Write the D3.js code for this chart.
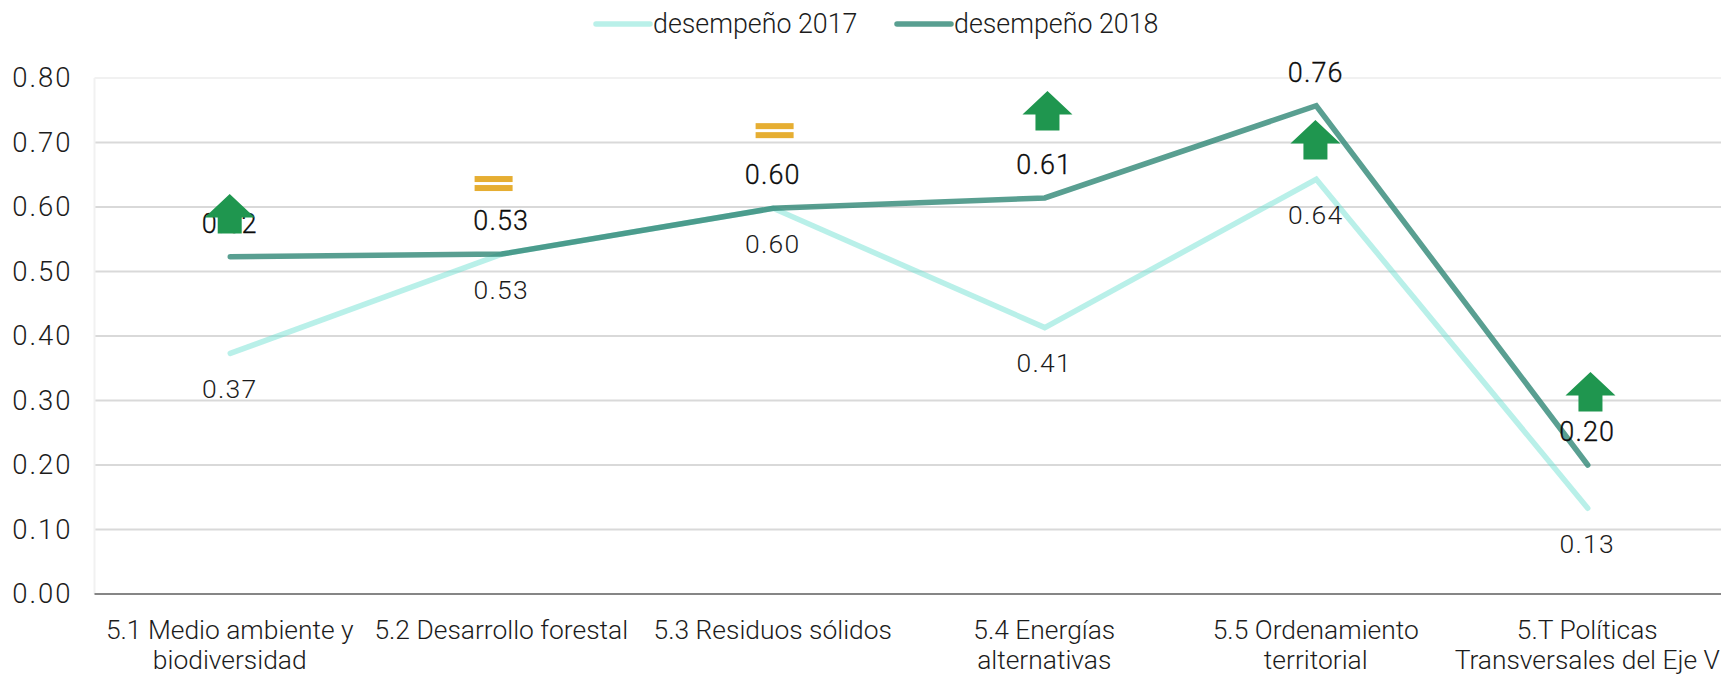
<!DOCTYPE html>
<html><head><meta charset="utf-8">
<script src="https://cdn.jsdelivr.net/npm/d3@7"></script>
<style>
html,body{margin:0;padding:0;background:#fff;overflow:hidden}
svg{display:block}
text{font-family:Roboto,"Noto Sans",sans-serif;font-weight:300;fill:#1c1c1c}
</style></head><body>
<svg id="c" width="1721" height="675"></svg>
<script>
const categories=["5.1 Medio ambiente y\nbiodiversidad","5.2 Desarrollo forestal","5.3 Residuos sólidos","5.4 Energías\nalternativas","5.5 Ordenamiento\nterritorial","5.T Políticas\nTransversales del Eje V"];
const values2017=[0.373,0.527,0.598,0.413,0.643,0.133];
const values2018=[0.523,0.527,0.598,0.614,0.757,0.20];
const labels2017=["0.37","0.53","0.60","0.41","0.64","0.13"];
const labels2018=["0.52","0.53","0.60","0.61","0.76","0.20"];
const yTicks=[0,0.1,0.2,0.3,0.4,0.5,0.6,0.7,0.8];
const seriesNames=["desempeño 2017","desempeño 2018"];
// trend markers: kind, position on the category axis (index), level of the top edge on the value axis
const trendKind=["up","equal","equal","up","up","up"];
const trendPos=[-0.002,0.97,2.005,3.01,3.997,5.01];
const trendTop=[0.62,0.648,0.73,0.78,0.735,0.344];

const colors={light:"#73E1D3",dark:"#2F8776",up:"#1F964F",equal:"#E6AE32"};
const svg=d3.select("#c");
const x0=94.5,step=271.5;
const x=d3.scalePoint().domain(categories).range([x0+step/2,x0+step*5.5]);
const xPos=d3.scaleLinear().domain([0,5]).range([x0+step/2,x0+step*5.5]);
const y=d3.scaleLinear().domain([0,0.8]).range([594,78]);
const right=1721;

// grid
svg.append("g").selectAll("line").data(yTicks.filter(d=>d>0)).join("line")
 .attr("x1",x0).attr("x2",right).attr("y1",d=>y(d)).attr("y2",d=>y(d))
 .attr("stroke",d=>d===0.8?"#f1f1f1":"#d9d9d9").attr("stroke-width",2);
svg.append("line").attr("x1",x0).attr("x2",x0).attr("y1",y(0.8)).attr("y2",y(0)).attr("stroke","#f1f1f1").attr("stroke-width",2);

// axes
const yAxis=svg.append("g").attr("transform",`translate(${x0},0)`)
 .call(d3.axisLeft(y).tickValues(yTicks).tickFormat(d3.format(".2f")).tickSize(0).tickPadding(22));
yAxis.select(".domain").remove();
yAxis.selectAll("text").attr("font-size",27.5).style("letter-spacing","2px");
yAxis.attr("font-family",null);

const xAxis=svg.append("g").attr("transform",`translate(0,${y(0)})`)
 .call(d3.axisBottom(x).tickSize(0).tickFormat(""));
xAxis.attr("font-family",null);
xAxis.select(".domain").attr("stroke","#868686").attr("stroke-width",2).attr("d",`M${x0},0H${right}`);
xAxis.selectAll(".tick text").each(function(d){
  const t=d3.select(this).attr("font-size",26.4).attr("y",null).attr("dy",null).text(null);
  d.split("\n").forEach((s,i)=>t.append("tspan").attr("x",-1).attr("y",45+i*29.5).text(s));
});

// lines
const line=d3.line().x((d,i)=>xPos(i)).y(d=>y(d));
[[values2017,colors.light,0.5],[values2018,colors.dark,0.8]].forEach(([v,c,o])=>{
  svg.append("path").attr("d",line(v)).attr("fill","none").attr("stroke",c).attr("stroke-opacity",o)
   .attr("stroke-width",5.5).attr("stroke-linecap","round").attr("stroke-linejoin","miter");
});

// data labels
svg.append("g").selectAll("text").data(labels2017).join("text")
 .attr("x",(d,i)=>xPos(i)-0.5).attr("y",(d,i)=>y(values2017[i])+44.5).attr("text-anchor","middle").attr("font-size",26.5)
 .style("letter-spacing","1.3px").text(d=>d);
svg.append("g").selectAll("text").data(labels2018).join("text")
 .attr("x",(d,i)=>xPos(i)-0.5).attr("y",(d,i)=>y(values2018[i])-24).attr("text-anchor","middle").attr("font-size",27)
 .style("letter-spacing","1.1px")
 .style("fill","#0c0c0c").style("stroke","#0c0c0c").style("stroke-width",0.3).text(d=>d);

// trend markers
const g=svg.append("g");
trendKind.forEach((k,i)=>{
  const cx=xPos(trendPos[i]),top=y(trendTop[i]);
  if(k==="up"){
    g.append("path").attr("fill",colors.up)
     .attr("d",`M${cx},${top}l25,23.5h-13v16h-24v-16h-13z`);
  }else{
    g.append("rect").attr("x",cx-19).attr("y",top).attr("width",38).attr("height",6).attr("fill",colors.equal);
    g.append("rect").attr("x",cx-19).attr("y",top+9).attr("width",38).attr("height",6).attr("fill",colors.equal);
  }
});

// legend
const lg=svg.append("g");
seriesNames.forEach((n,i)=>{
  const lx=[596,897][i];
  lg.append("line").attr("x1",lx).attr("x2",lx+54).attr("y1",24).attr("y2",24)
   .attr("stroke",[colors.light,colors.dark][i]).attr("stroke-opacity",[0.5,0.8][i]).attr("stroke-width",5.5).attr("stroke-linecap","round");
  lg.append("text").attr("x",lx+57).attr("y",33).attr("font-size",26.8).text(n);
});
</script>
</body></html>
